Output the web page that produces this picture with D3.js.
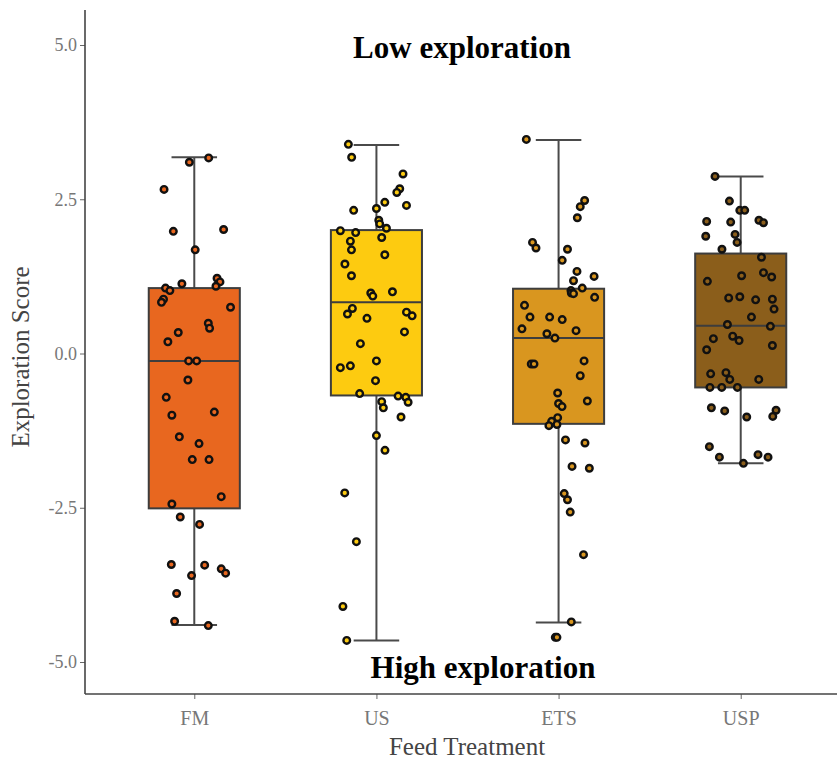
<!DOCTYPE html>
<html><head><meta charset="utf-8">
<script src="https://cdn.jsdelivr.net/npm/d3@7"></script>
<style>body{margin:0;background:#fff}svg{display:block}</style>
</head><body>
<svg id="c" width="837" height="762"></svg>
<script>
const categories = ["FM","US","ETS","USP"];
const colors = ["#e8671f","#fdcb10","#d9961f","#8b5e1b"];
const whiskerHigh = [3.18, 3.38, 3.46, 2.87];
const q3 = [1.06, 2.00, 1.05, 1.62];
const median = [-0.12, 0.83, 0.25, 0.45];
const q1 = [-2.51, -0.68, -1.14, -0.55];
const whiskerLow = [-4.40, -4.65, -4.36, -1.78];
const yTicks = [-5, -2.5, 0, 2.5, 5];

// points: [value, jitter (in category units)]
const ptsFM = [[3.17,0.079],[3.10,-0.027],[2.66,-0.166],[1.98,-0.115],[2.01,0.161],[1.68,0.005],[1.13,-0.068],[1.22,0.125],[1.16,0.141],[1.09,0.119],[1.06,-0.158],[1.02,-0.134],[0.88,-0.169],[0.83,-0.180],[0.75,0.199],[0.49,0.077],[0.41,0.084],[0.34,-0.088],[0.19,-0.145],[-0.12,-0.031],[-0.12,0.013],[-0.43,-0.035],[-0.71,-0.154],[-1.00,-0.123],[-0.95,0.110],[-1.35,-0.082],[-1.46,0.026],[-1.72,-0.011],[-1.72,0.081],[-2.32,0.148],[-2.44,-0.123],[-2.65,-0.077],[-2.77,0.029],[-3.42,-0.126],[-3.43,0.057],[-3.49,0.148],[-3.56,0.172],[-3.60,-0.015],[-3.89,-0.097],[-4.34,-0.108],[-4.41,0.077]];
const ptsUS = [[3.39,-0.154],[3.18,-0.136],[2.91,0.146],[2.67,0.128],[2.61,0.112],[2.40,0.165],[2.45,0.046],[2.35,0.0],[2.32,-0.125],[2.16,0.013],[2.10,0.018],[2.03,0.055],[1.99,-0.198],[1.96,-0.114],[1.88,0.029],[1.82,-0.143],[1.68,-0.137],[1.60,0.046],[1.45,-0.173],[1.26,-0.137],[0.98,-0.031],[0.93,-0.020],[1.00,0.088],[0.73,-0.132],[0.64,-0.159],[0.67,0.165],[0.61,0.196],[0.57,-0.052],[0.35,0.154],[0.16,-0.088],[-0.12,0.0],[-0.23,-0.198],[-0.20,-0.143],[-0.44,-0.005],[-0.65,-0.092],[-0.69,0.119],[-0.71,0.161],[-0.78,0.029],[-0.79,0.174],[-0.88,0.038],[-1.03,0.135],[-1.33,0.0],[-1.57,0.047],[-2.26,-0.174],[-3.05,-0.110],[-4.10,-0.184],[-4.65,-0.163]];
const ptsETS = [[3.47,-0.177],[2.48,0.143],[2.38,0.119],[2.20,0.103],[1.80,-0.143],[1.71,-0.124],[1.69,0.049],[1.51,0.020],[1.33,0.101],[1.25,0.195],[1.18,0.082],[1.06,0.130],[1.02,0.068],[0.98,0.070],[0.97,0.082],[0.91,0.198],[0.78,-0.187],[0.59,-0.157],[0.59,-0.049],[0.55,0.020],[0.40,-0.201],[0.37,0.096],[0.32,-0.064],[0.25,-0.020],[-0.17,-0.150],[-0.17,-0.135],[-0.12,0.140],[-0.36,0.119],[-0.64,-0.005],[-0.81,0.0],[-0.86,0.019],[-0.77,0.158],[-1.04,-0.005],[-1.10,-0.038],[-1.17,-0.053],[-1.15,-0.009],[-1.40,0.038],[-1.45,0.145],[-1.83,0.074],[-1.86,0.169],[-2.27,0.031],[-2.37,0.049],[-2.57,0.064],[-3.26,0.137],[-4.35,0.070],[-4.60,-0.018],[-4.60,-0.009]];
const ptsUSP = [[2.87,-0.141],[2.47,-0.062],[2.32,-0.005],[2.32,0.022],[2.14,-0.187],[2.13,-0.055],[2.16,0.100],[2.12,0.125],[1.90,-0.192],[1.93,-0.031],[1.80,-0.020],[1.69,-0.103],[1.56,0.114],[1.26,0.005],[1.31,0.125],[1.24,0.170],[1.17,-0.183],[0.90,-0.066],[0.92,-0.005],[0.87,0.082],[0.88,0.174],[0.72,0.183],[0.59,0.059],[0.47,-0.073],[0.44,0.163],[0.24,-0.150],[0.28,-0.044],[0.21,-0.009],[0.13,0.174],[0.06,-0.187],[-0.33,-0.165],[-0.31,-0.081],[-0.42,-0.060],[-0.42,0.099],[-0.55,-0.169],[-0.55,-0.104],[-0.55,-0.018],[-0.88,-0.161],[-0.93,-0.088],[-1.03,0.033],[-0.92,0.194],[-1.02,0.176],[-1.51,-0.172],[-1.68,-0.117],[-1.78,0.015],[-1.64,0.095],[-1.68,0.150]];
const points = [ptsFM, ptsUS, ptsETS, ptsUSP];

const svg = d3.select("#c");
const padL = 85, padB = 694, padT = 10;
const x = d3.scaleLinear().domain([0.4, 4.6]).range([padL, 850]);
const y = d3.scaleLinear().domain([-5, 5]).range([662, 45]);
const boxW = 0.5, capW = 0.25;

const g = svg.append("g");
categories.forEach((c, i) => {
  const cx = x(i + 1);
  const gg = g.append("g");
  gg.append("line").attr("x1", cx).attr("x2", cx).attr("y1", y(whiskerHigh[i])).attr("y2", y(q3[i]))
    .attr("stroke", "#4a4a4a").attr("stroke-width", 2);
  gg.append("line").attr("x1", cx).attr("x2", cx).attr("y1", y(q1[i])).attr("y2", y(whiskerLow[i]))
    .attr("stroke", "#4a4a4a").attr("stroke-width", 2);
  [whiskerHigh[i], whiskerLow[i]].forEach(v => {
    gg.append("line").attr("x1", x(i + 1 - capW / 2)).attr("x2", x(i + 1 + capW / 2))
      .attr("y1", y(v)).attr("y2", y(v)).attr("stroke", "#4a4a4a").attr("stroke-width", 2);
  });
  gg.append("rect").attr("x", x(i + 1 - boxW / 2)).attr("width", x(i + 1 + boxW / 2) - x(i + 1 - boxW / 2))
    .attr("y", y(q3[i])).attr("height", y(q1[i]) - y(q3[i]))
    .attr("fill", colors[i]).attr("stroke", "#3d3d3d").attr("stroke-width", 2);
  gg.append("line").attr("x1", x(i + 1 - boxW / 2)).attr("x2", x(i + 1 + boxW / 2))
    .attr("y1", y(median[i])).attr("y2", y(median[i])).attr("stroke", "#3d3d3d").attr("stroke-width", 2);
  gg.selectAll("circle").data(points[i]).join("circle")
    .attr("cx", d => x(i + 1 + d[1])).attr("cy", d => y(d[0])).attr("r", 3.3)
    .attr("fill", colors[i]).attr("stroke", "#111").attr("stroke-width", 2.4);
});

// axes
const fmt = d3.format(".1f");
const yAxis = d3.axisLeft(y).tickValues(yTicks).tickFormat(d => fmt(d).replace("\u2212", "-")).tickSize(5).tickSizeOuter(0);
const ya = svg.append("g").attr("transform", `translate(${padL},0)`).call(yAxis);
ya.select(".domain").remove();
ya.append("line").attr("x1", 0).attr("x2", 0).attr("y1", padT).attr("y2", padB).attr("stroke", "#444").attr("stroke-width", 1.6);
ya.selectAll(".tick line").attr("stroke", "#666");
ya.selectAll(".tick text").attr("fill", "#777").attr("font-family", "Liberation Serif").attr("font-size", 18).attr("x", -8);

const xAxis = d3.axisBottom(x).tickValues([1, 2, 3, 4]).tickFormat((d) => categories[d - 1]).tickSize(5).tickSizeOuter(0);
const xa = svg.append("g").attr("transform", `translate(0,${padB})`).call(xAxis);
xa.select(".domain").remove();
xa.append("line").attr("x1", padL).attr("x2", 837).attr("y1", 0).attr("y2", 0).attr("stroke", "#444").attr("stroke-width", 1.6);
xa.selectAll(".tick line").attr("stroke", "#666");
xa.selectAll(".tick text").attr("fill", "#777").attr("font-family", "Liberation Serif").attr("font-size", 20).attr("dy", "1.15em");

svg.append("text").attr("x", 462).attr("y", 58).attr("text-anchor", "middle")
  .attr("font-family", "Liberation Serif").attr("font-weight", "bold").attr("font-size", 31).text("Low exploration");
svg.append("text").attr("x", 483).attr("y", 678).attr("text-anchor", "middle")
  .attr("font-family", "Liberation Serif").attr("font-weight", "bold").attr("font-size", 31).text("High exploration");
svg.append("text").attr("transform", "translate(29,357) rotate(-90)").attr("text-anchor", "middle")
  .attr("font-family", "Liberation Serif").attr("font-size", 25).attr("fill", "#444").text("Exploration Score");
svg.append("text").attr("x", 467).attr("y", 755).attr("text-anchor", "middle")
  .attr("font-family", "Liberation Serif").attr("font-size", 25).attr("fill", "#444").text("Feed Treatment");
</script>
</body></html>
